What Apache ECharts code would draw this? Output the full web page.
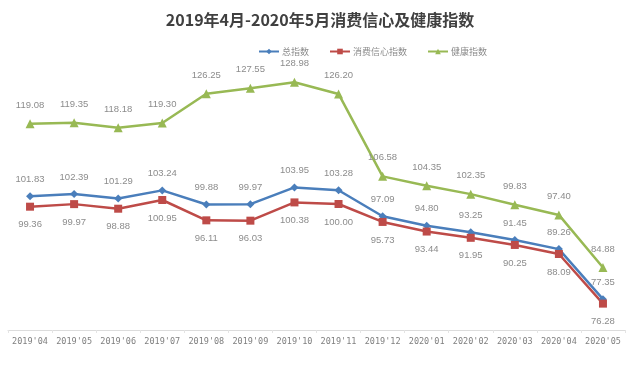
<!DOCTYPE html>
<html><head><meta charset="utf-8">
<script src="https://cdn.jsdelivr.net/npm/echarts@6/dist/echarts.min.js"></script>
<style>html,body{margin:0;padding:0;background:#fff}#c{width:640px;height:365px}</style>
</head><body><div id="c"></div>
<script>
const categories = ["2019'04","2019'05","2019'06","2019'07","2019'08","2019'09","2019'10","2019'11","2019'12","2020'01","2020'02","2020'03","2020'04","2020'05"];
const totalIndex = [101.83,102.39,101.29,103.24,99.88,99.97,103.95,103.28,97.09,94.80,93.25,91.45,89.26,77.35];
const consumerIndex = [99.36,99.97,98.88,100.95,96.11,96.03,100.38,100.00,95.73,93.44,91.95,90.25,88.09,76.28];
const healthIndex = [119.08,119.35,118.18,119.30,126.25,127.55,128.98,126.20,106.58,104.35,102.35,99.83,97.40,84.88];
const seriesNames = ["总指数","消费信心指数","健康指数"];

const chart = echarts.init(document.getElementById('c'));
const lbl = {show:true, color:'#8c8c8c', fontSize:9.5, fontFamily:'Liberation Sans', formatter:p=>p.value.toFixed(2)};
chart.setOption({
  animation:false,
  title:{text:'2019年4月-2020年5月消费信心及健康指数', left:'center', top:7,
    textStyle:{fontSize:16, fontWeight:'bold', color:'#404040', fontFamily:'Noto Sans CJK SC'}},
  legend:{top:42, left:253, itemWidth:20, itemHeight:7, itemGap:20,
    textStyle:{fontSize:9, color:'#8c8c8c', fontFamily:'Noto Sans CJK SC', padding:[0,0,0,-2]}},
  grid:{left:8, right:15, top:36, bottom:35},
  xAxis:{type:'category', data:categories, boundaryGap:true,
    axisLine:{lineStyle:{color:'#dcdcdc', width:1}},
    axisTick:{show:true, lineStyle:{color:'#e4e4e4'}, length:3},
    axisLabel:{interval:0, color:'#7f7f7f', fontSize:8.5, margin:7, fontFamily:'DejaVu Sans Mono'}},
  yAxis:{type:'value', min:70, max:140, show:false, splitLine:{show:false}},
  series:[
    {name:seriesNames[0], type:'line', data:totalIndex, symbol:'diamond', symbolSize:8,
      itemStyle:{color:'#4a7ebb'}, lineStyle:{width:2.5, color:'#4a7ebb'},
      label:Object.assign({position:'top', distance:8}, lbl)},
    {name:seriesNames[1], type:'line', data:consumerIndex, symbol:'rect', symbolSize:8,
      itemStyle:{color:'#be4b48'}, lineStyle:{width:2.5, color:'#be4b48'},
      label:Object.assign({position:'bottom', distance:9}, lbl)},
    {name:seriesNames[2], type:'line', data:healthIndex, symbol:'triangle', symbolSize:9,
      itemStyle:{color:'#98b954'}, lineStyle:{width:2.5, color:'#98b954'},
      label:Object.assign({position:'top', distance:9}, lbl)}
  ]
});
</script></body></html>
